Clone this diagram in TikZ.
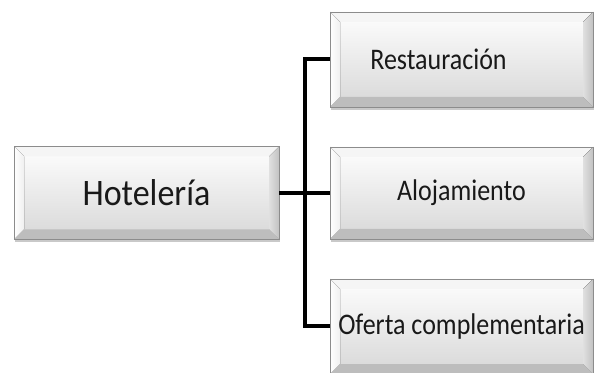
\documentclass[tikz,border=0pt]{standalone}
\usepackage{fontspec}
\setmainfont{Carlito}
\usetikzlibrary{shadows}
\newcommand\bevelpic{%
  \coordinate (oNW) at (path picture bounding box.north west);
  \coordinate (oNE) at (path picture bounding box.north east);
  \coordinate (oSW) at (path picture bounding box.south west);
  \coordinate (oSE) at (path picture bounding box.south east);
  \coordinate (iNW) at ([xshift=10pt,yshift=-10pt]path picture bounding box.north west);
  \coordinate (iNE) at ([xshift=-10pt,yshift=-10pt]path picture bounding box.north east);
  \coordinate (iSW) at ([xshift=10pt,yshift=10pt]path picture bounding box.south west);
  \coordinate (iSE) at ([xshift=-10pt,yshift=10pt]path picture bounding box.south east);
  \fill[top color=black!2,bottom color=black!14] (iNW) rectangle (iSE);
  \fill[black!4] (oNW)--(oNE)--(iNE)--(iNW)--cycle;
  \fill[left color=white,right color=black!6] (oNW)--(iNW)--(iSW)--(oSW)--cycle;
  \fill[left color=black!12,right color=black!24] (oNE)--(oSE)--(iSE)--(iNE)--cycle;
  \fill[black!26] (oSW)--(oSE)--(iSE)--(iSW)--cycle;
}
\newcommand\rtxt[1]{\scalebox{1}[1.15]{\fontsize{26}{30}\selectfont #1}}
\newcommand\htxt[1]{\scalebox{1}[1.1]{\fontsize{34}{40}\selectfont #1}}
\tikzset{
  bev/.style={draw=black!45, line width=0.8pt, inner sep=0pt, text=black!90,
    path picture={\bevelpic},
    drop shadow={shadow xshift=1pt, shadow yshift=-3pt, opacity=0.3, fill=black!70}},
  conn/.style={line width=4pt, black, line join=miter}
}
\begin{document}
\begin{tikzpicture}[x=1pt,y=1pt]
\useasboundingbox (0,0) rectangle (594,372);
\node[bev, minimum width=265pt, minimum height=93pt] (hot) at (146.5,179) {\htxt{Hotelería}};
\node[bev, minimum width=263pt, minimum height=95pt] (res) at (461.5,312.5) {\rtxt{Restauración}\hspace*{46pt}};
\node[bev, minimum width=263pt, minimum height=92pt] (alo) at (461.5,179) {\rtxt{Alojamiento}};
\node[bev, minimum width=263pt, minimum height=95pt] (ofe) at (461.5,45.5) {\rtxt{Oferta complementaria}};
\coordinate (j) at (305,179);
\draw[conn] (hot.east) -- (alo.west);
\draw[conn] (res.west) -| (j) |- (ofe.west);
\end{tikzpicture}
\end{document}
